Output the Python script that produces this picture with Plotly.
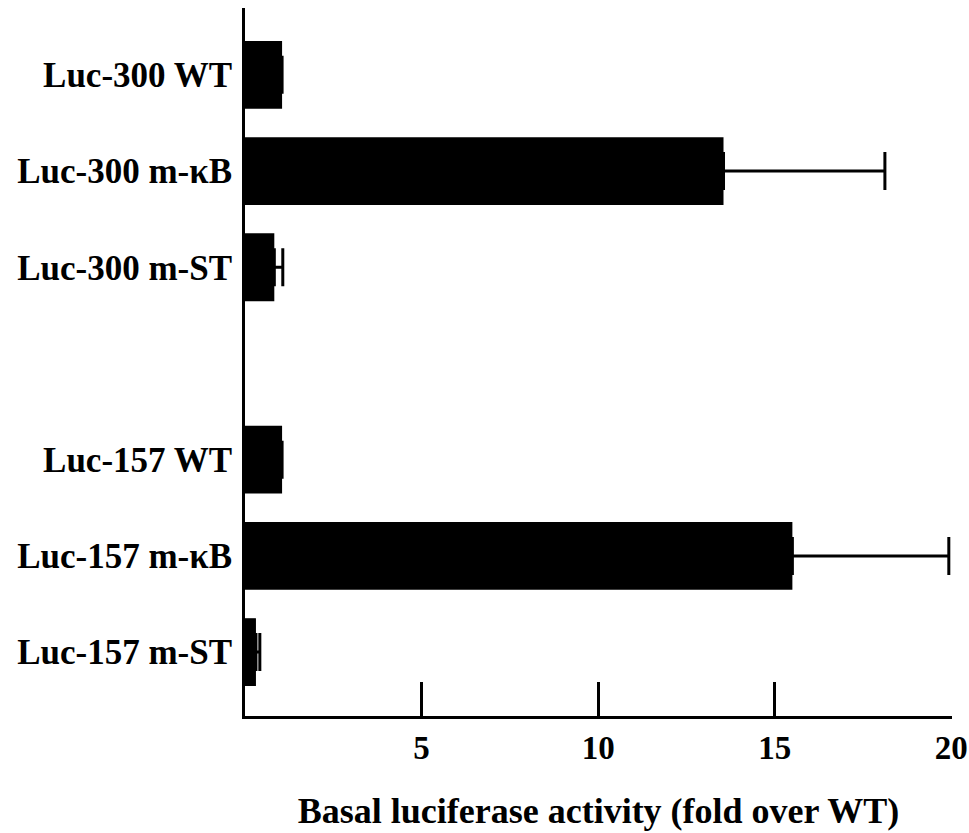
import plotly.graph_objects as go
import math

categories = ["Luc-300 WT", "Luc-300 m-κB", "Luc-300 m-ST",
              "Luc-157 WT", "Luc-157 m-κB", "Luc-157 m-ST"]
axis_order = ["Luc-300 WT", "Luc-300 m-κB", "Luc-300 m-ST", " ",
              "Luc-157 WT", "Luc-157 m-κB", "Luc-157 m-ST"]
values = [1.05, 13.55, 0.83, 1.05, 15.5, 0.31]
errors = [math.nan, 4.57, 0.24, math.nan, 4.43, 0.11]
x_ticks = [5, 10, 15, 20]

FONT = "Liberation Serif, Times New Roman, serif"

fig = go.Figure()
fig.add_trace(go.Bar(
    x=values, y=categories, orientation="h",
    marker=dict(color="black", line=dict(width=0)),
    width=0.705,
    error_x=dict(type="data", array=errors, arrayminus=[0] * len(errors),
                 symmetric=False, color="black", thickness=3, width=19),
))

fig.update_layout(
    width=969, height=833,
    margin=dict(l=245, r=17, t=8, b=117),
    paper_bgcolor="white", plot_bgcolor="white",
    showlegend=False,
    font=dict(family=FONT, color="black"),
    xaxis=dict(
        range=[0, 20.02], tickvals=x_ticks, ticks="inside", ticklen=34,
        tickwidth=3, tickcolor="black", showline=True, linewidth=3,
        linecolor="black", showgrid=False, zeroline=False, automargin=False,
        tickfont=dict(family=FONT, size=33, color="black", weight="bold"),
        title=dict(text="<b>Basal luciferase activity (fold over WT)</b>",
                   font=dict(family=FONT, size=36, color="black"), standoff=34),
    ),
    yaxis=dict(
        type="category", categoryorder="array", categoryarray=axis_order,
        range=[6.664, -0.695], showline=True, linewidth=3, linecolor="black",
        ticks="", showgrid=False, zeroline=False, ticklabelstandoff=3,
        automargin=False,
        tickfont=dict(family=FONT, size=35, color="black", weight="bold"),
    ),
)

fig.write_html(
    "out.html",
    config={"displayModeBar": False},
    post_script="document.body.style.margin='0';document.body.style.overflow='hidden';",
)
